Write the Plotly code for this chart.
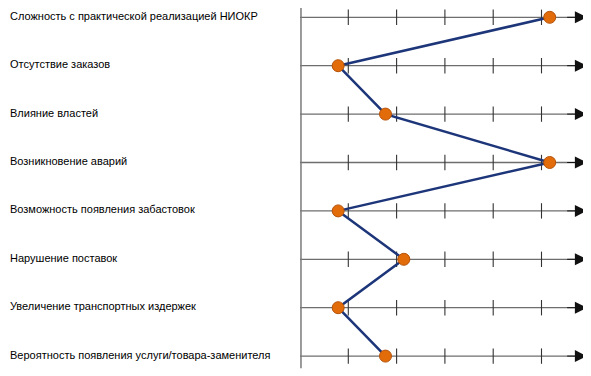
import plotly.graph_objects as go

categories = [
    "Сложность с практической реализацией НИОКР",
    "Отсутствие заказов",
    "Влияние властей",
    "Возникновение аварий",
    "Возможность появления забастовок",
    "Нарушение поставок",
    "Увеличение транспортных издержек",
    "Вероятность появления услуги/товара-заменителя",
]
values = [5.17, 0.79, 1.77, 5.17, 0.79, 2.15, 0.79, 1.77]
tick_values = [1, 2, 3, 4, 5]

PAGE_OFF = 8  # browser body margin
W, H = 591 - PAGE_OFF, 376 - PAGE_OFF
X0_PX, UNIT_PX = 300.0 - PAGE_OFF, 48.3
Y0_PX, ROW_PX = 17.3 - PAGE_OFF, 48.4
x_range = [-X0_PX / UNIT_PX, (W - X0_PX) / UNIT_PX]
y_range = [(H - Y0_PX) / ROW_PX, -Y0_PX / ROW_PX]

rows = list(range(len(categories)))
fig = go.Figure()

shapes = []
annotations = []
axis_end = 5.8
for r in rows:
    shapes.append(dict(type="line", xref="x", yref="y", x0=0, x1=axis_end, y0=r, y1=r,
                       line=dict(color="#6e6e6e", width=1.3), layer="below"))
    annotations.append(dict(x=5.94, y=r, ax=5.5, ay=r, xref="x", yref="y", axref="x", ayref="y",
                            showarrow=True, arrowhead=2, arrowsize=2.4, arrowwidth=1,
                            standoff=0, startstandoff=0,
                            arrowcolor="#111111", text=""))
    annotations.append(dict(x=0, y=r - 0.03, xref="paper", yref="y", text=categories[r],
                            showarrow=False, xanchor="left", yanchor="middle",
                            font=dict(family="Liberation Sans, Arial", size=11, color="#000000")))

# vertical axis
shapes.append(dict(type="line", xref="x", yref="y", x0=0.02, x1=0.02, y0=y_range[1], y1=7.25,
                   line=dict(color="#7a7a7a", width=1.5), layer="below"))

tick_x, tick_y = [], []
for r in rows:
    for t in tick_values:
        tick_x.append(t)
        tick_y.append(r)
fig.add_trace(go.Scatter(x=tick_x, y=tick_y, mode="markers", hoverinfo="skip",
                         marker=dict(symbol="line-ns", size=11,
                                     line=dict(color="#333333", width=1.1))))

fig.add_trace(go.Scatter(x=values, y=rows, mode="lines+markers",
                         line=dict(color="#1d3579", width=2.5),
                         marker=dict(size=12, color="#e36c0a",
                                     line=dict(color="#b5530a", width=1))))

fig.update_layout(
    width=W, height=H, margin=dict(l=0, r=0, t=0, b=0),
    paper_bgcolor="white", plot_bgcolor="white", showlegend=False,
    xaxis=dict(range=x_range, visible=False, fixedrange=True),
    yaxis=dict(range=y_range, visible=False, fixedrange=True),
    shapes=shapes, annotations=annotations,
)
fig.write_html("out.html")
